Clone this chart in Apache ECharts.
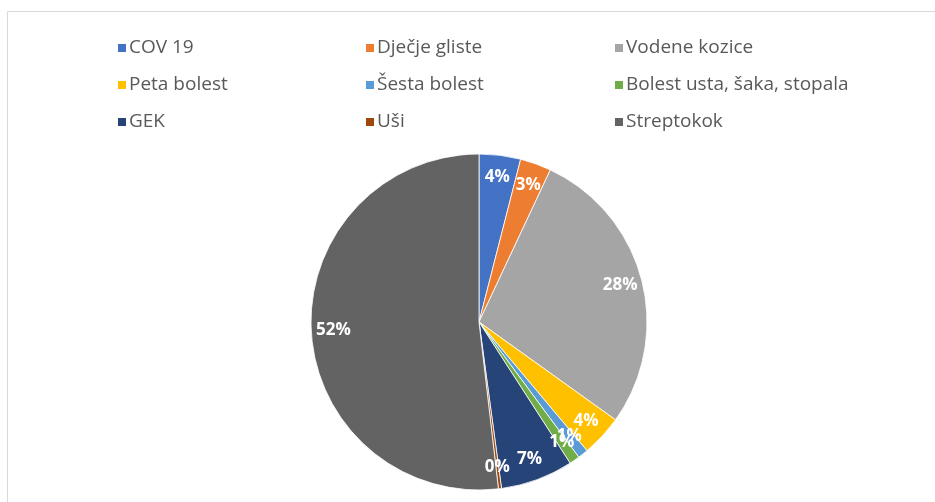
<!DOCTYPE html>
<html>
<head>
<meta charset="utf-8">
<script src="https://cdn.jsdelivr.net/npm/echarts@6/dist/echarts.min.js"></script>
<style>
  html, body { margin: 0; padding: 0; background: #ffffff; }
  #chart { width: 935px; height: 502px; }
</style>
</head>
<body>
<div id="chart"></div>
<script>
// Disease categories and their shares (percent)
const categories = [
  'COV 19', 'Dječje gliste', 'Vodene kozice',
  'Peta bolest', 'Šesta bolest', 'Bolest usta, šaka, stopala',
  'GEK', 'Uši', 'Streptokok'
];
const values = [4, 3, 28, 4, 1, 1, 7, 0.3, 52];
const colors = [
  '#4472C4', '#ED7D31', '#A5A5A5',
  '#FFC000', '#5B9BD5', '#70AD47',
  '#264478', '#9E480E', '#636363'
];

// Legend columns (three columns, three rows)
const legendCols = [
  [categories[0], categories[3], categories[6]],
  [categories[1], categories[4], categories[7]],
  [categories[2], categories[5], categories[8]]
];
const legendLeft = [111, 359, 608];

const pieData = categories.map((name, i) => ({
  name: name,
  value: values[i],
  itemStyle: { color: colors[i] }
}));

const R = 168;
const center = [479, 322];

const chart = echarts.init(document.getElementById('chart'), null, { renderer: 'canvas' });

chart.setOption({
  backgroundColor: '#ffffff',
  animation: false,
  color: colors,
  graphic: [{
    type: 'rect',
    shape: { x: 7.5, y: 11.5, width: 940, height: 500 },
    style: { fill: 'none', stroke: '#d9d9d9', lineWidth: 1 },
    silent: true
  }],
  legend: legendCols.map((col, i) => ({
    orient: 'vertical',
    left: legendLeft[i],
    top: 31,
    data: col,
    icon: 'rect',
    itemWidth: 10,
    itemHeight: 10,
    itemGap: 13,
    textStyle: {
      fontFamily: 'Open Sans',
      fontSize: 19,
      color: '#595959',
      lineHeight: 24,
      padding: [0, 0, 0, -3]
    },
    selectedMode: false
  })),
  series: [
    {
      type: 'pie',
      center: center,
      radius: [0, R],
      startAngle: 90,
      clockwise: true,
      silent: true,
      data: pieData,
      label: { show: false },
      labelLine: { show: false },
      itemStyle: { borderColor: '#ffffff', borderWidth: 0.8 }
    },
    {
      // transparent ring that only carries the percentage labels
      type: 'pie',
      center: center,
      radius: [R * 0.7, R],
      startAngle: 90,
      clockwise: true,
      silent: true,
      legendHoverLink: false,
      data: pieData.map(d => ({ name: d.name, value: d.value })),
      itemStyle: { color: 'rgba(0,0,0,0)', borderWidth: 0 },
      label: {
        show: true,
        position: 'inside',
        formatter: p => Math.round(p.percent) + '%',
        color: '#ffffff',
        fontFamily: 'Open Sans',
        fontWeight: 'bold',
        fontSize: 17
      },
      labelLayout: { hideOverlap: false },
      labelLine: { show: false }
    }
  ]
});
</script>
</body>
</html>
